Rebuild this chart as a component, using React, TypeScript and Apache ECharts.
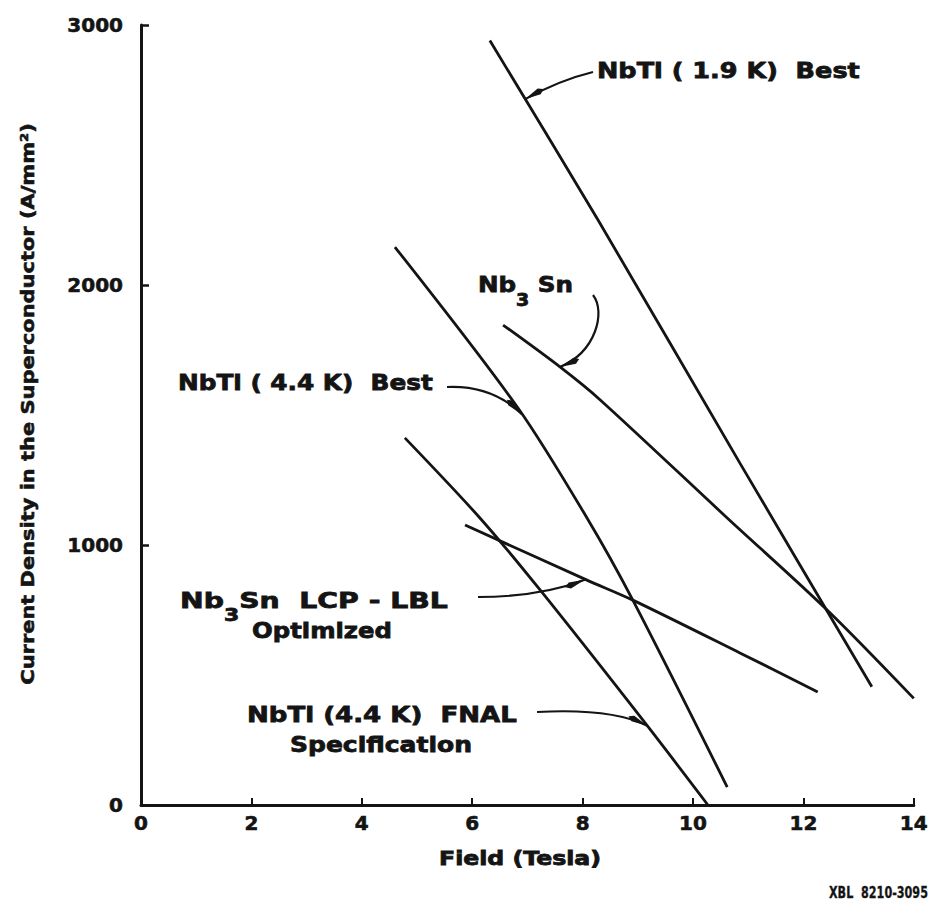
import React, { useEffect, useRef } from "react";
import * as echarts from "echarts";

// Axis ticks
const xTicks = [0, 2, 4, 6, 8, 10, 12, 14];
const yTicks = [0, 1000, 2000, 3000];

// Curves: [field (T), current density (A/mm^2)]
const nbti19Best = [[6.32, 2940], [8.28, 2250], [10.85, 1315], [13.24, 455]];
const nb3sn = [[6.56, 1846], [7.59, 1685], [8.32, 1558], [10.62, 1104], [12.43, 750], [14.0, 410]];
const nbti44Best = [[4.6, 2146], [6.83, 1527], [8.08, 1104], [8.91, 788], [10.62, 69]];
const nbti44Fnal = [[4.78, 1412], [6.14, 1104], [7.23, 827], [9.09, 327], [10.27, 0]];
const nb3snLcp = [[5.87, 1077], [8.08, 865], [8.91, 788], [10.85, 585], [12.26, 435]];

// Points on the curves that the annotation arrows point at
const arrowTips = [[6.96, 2715], [7.59, 1685], [6.9, 1503], [8.04, 866], [9.17, 305]];

const FONT = '"DejaVu Sans", "Liberation Sans", sans-serif';
const INK = "#141414";

function measure(text: string, size: number, weight = "bold", family = FONT) {
  const c = document.createElement("canvas").getContext("2d")!;
  c.font = `${weight} ${size}px ${family}`;
  return c.measureText(text).width;
}

function fitText(
  text: string,
  x: number,
  y: number,
  width: number,
  size: number,
  align: "left" | "center" = "left",
  rotation = 0,
  strokeW = 0.8
) {
  const w = measure(text, size);
  return {
    type: "text",
    x,
    y,
    rotation,
    scaleX: width / w,
    silent: true,
    style: {
      text,
      font: `bold ${size}px ${FONT}`,
      fill: INK,
      stroke: INK,
      lineWidth: strokeW,
      textAlign: align,
      textVerticalAlign: "middle",
    },
  };
}

// Chemical formula label with a lowered subscript "3"
function formulaText(after: string, x: number, yNb: number, width: number, size: number) {
  const sub = Math.round(size * 0.78);
  const total = measure("Nb", size) + measure("3", sub) + measure(after, size);
  const lh = Math.round(size * 1.6);
  return {
    type: "text",
    x,
    y: yNb - size / 2 + lh / 2,
    scaleX: width / total,
    silent: true,
    style: {
      text: `{n|Nb}{s|3}{n|${after}}`,
      fill: INK,
      stroke: INK,
      lineWidth: 0.8,
      textAlign: "left",
      textVerticalAlign: "middle",
      rich: {
        n: {
          fontSize: size,
          fontWeight: "bold",
          fontFamily: FONT,
          lineHeight: size,
          verticalAlign: "top",
          fill: INK,
        },
        s: {
          fontSize: sub,
          fontWeight: "bold",
          fontFamily: FONT,
          lineHeight: lh,
          verticalAlign: "bottom",
          fill: INK,
        },
      },
    },
  };
}

function arrow(start: number[], cp: number[], tip: number[], cp2?: number[]) {
  const shape: any = { x1: start[0], y1: start[1], x2: tip[0], y2: tip[1], cpx1: cp[0], cpy1: cp[1] };
  if (cp2) {
    shape.cpx2 = cp2[0];
    shape.cpy2 = cp2[1];
  }
  const from = cp2 || cp;
  const dx = tip[0] - from[0];
  const dy = tip[1] - from[1];
  const len = Math.hypot(dx, dy) || 1;
  const ux = dx / len;
  const uy = dy / len;
  const L = 16;
  const W = 3.2;
  const bx = tip[0] - ux * L;
  const by = tip[1] - uy * L;
  return [
    {
      type: "bezierCurve",
      silent: true,
      shape,
      style: { stroke: INK, lineWidth: 2.2, fill: null },
    },
    {
      type: "polygon",
      silent: true,
      shape: {
        points: [
          [tip[0], tip[1]],
          [bx - uy * W, by + ux * W],
          [tip[0] - ux * L * 1.3, tip[1] - uy * L * 1.3],
          [bx + uy * W, by - ux * W],
        ],
      },
      style: { fill: INK },
    },
  ];
}

export default function App() {
  const ref = useRef<HTMLDivElement>(null);

  useEffect(() => {
    const chart = echarts.init(ref.current!, undefined, { renderer: "svg" });
    const lineSeries = (name: string, data: number[][]) => ({
      name,
      type: "line",
      data,
      showSymbol: false,
      smooth: 0.3,
      clip: true,
      lineStyle: { color: INK, width: 2.8 },
      itemStyle: { color: INK },
    });

    const tickLabel = {
      color: INK,
      fontSize: 20,
      fontWeight: "bold",
      fontFamily: FONT,
      textBorderColor: INK,
      textBorderWidth: 0.6,
    };

    chart.setOption({
      animation: false,
      backgroundColor: "#ffffff",
      grid: { left: 141, right: 17, top: 25, bottom: 107 },
      xAxis: {
        type: "value",
        min: xTicks[0],
        max: xTicks[xTicks.length - 1],
        interval: 2,
        axisLine: { show: true, lineStyle: { color: INK, width: 3 } },
        axisTick: { show: true, inside: true, length: 7, lineStyle: { color: INK, width: 2 } },
        axisLabel: {
          ...tickLabel,
          margin: 8,
          formatter: (v: number) => (xTicks.includes(v) ? String(v) : ""),
        },
        splitLine: { show: false },
      },
      yAxis: {
        type: "value",
        min: yTicks[0],
        max: yTicks[yTicks.length - 1],
        interval: 1000,
        axisLine: { show: true, lineStyle: { color: INK, width: 3 } },
        axisTick: { show: true, inside: true, length: 8, lineStyle: { color: INK, width: 2.5 } },
        axisLabel: {
          ...tickLabel,
          margin: 18,
          formatter: (v: number) => (yTicks.includes(v) ? String(v) : ""),
        },
        splitLine: { show: false },
      },
      series: [
        lineSeries("NbTi (1.9 K) Best", nbti19Best),
        lineSeries("Nb3Sn", nb3sn),
        lineSeries("NbTi (4.4 K) Best", nbti44Best),
        lineSeries("NbTi (4.4 K) FNAL Specification", nbti44Fnal),
        lineSeries("Nb3Sn LCP - LBL Optimized", nb3snLcp),
      ],
    });

    const px = (p: number[]) => chart.convertToPixel({ xAxisIndex: 0, yAxisIndex: 0 }, p) as number[];
    const t = arrowTips.map(px);

    const graphic: any[] = [
      fitText("NbTi ( 1.9 K)  Best", 597, 71, 263, 22),
      ...arrow([593, 72], [560, 80], t[0]),
      formulaText(" Sn", 478, 284, 95, 22),
      ...arrow([593, 295], [606, 312], t[1], [596, 352]),
      fitText("NbTi ( 4.4 K)  Best", 178, 382, 255, 22),
      ...arrow([447, 387], [492, 385], t[2]),
      formulaText("Sn  LCP - LBL", 180, 600, 268, 22),
      fitText("Optimized", 322, 630, 140, 22, "center"),
      ...arrow([478, 597], [540, 597], t[3]),
      fitText("NbTi (4.4 K)  FNAL", 247, 715, 270, 22),
      fitText("Specification", 381, 745, 182, 22, "center"),
      ...arrow([537, 712], [612, 708], t[4]),
      fitText("Field (Tesla)", 520, 858, 162, 19, "center"),
      fitText("Current Density in the Superconductor (A/mm\u00B2)", 28, 404, 562, 18, "center", Math.PI / 2, 0.6),
      fitText("XBL  8210-3095", 829, 893, 99, 15, "left", 0, 0.3),
    ];
    chart.setOption({ graphic });

    return () => chart.dispose();
  }, []);

  return (
    <div
      ref={ref}
      style={{ position: "fixed", left: 0, top: 0, width: 931, height: 912, background: "#fff" }}
    />
  );
}
